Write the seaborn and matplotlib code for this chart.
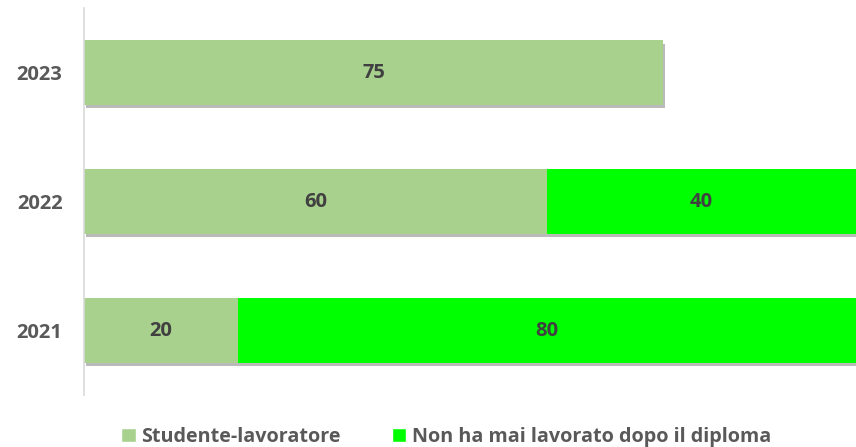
import matplotlib
matplotlib.use("Agg")
import matplotlib.pyplot as plt
import matplotlib.patheffects as pe
from matplotlib.patches import Patch
import seaborn as sns
import pandas as pd

years = ["2023", "2022", "2021"]
studente = [75, 60, 20]
mai_lavorato = [0, 40, 80]
series_names = ["Studente-lavoratore", "Non ha mai lavorato dopo il diploma"]
colors = ["#A9D18E", "#00FF00"]

sns.set_style("white")
plt.rcParams['font.family'] = ['Open Sans', 'DejaVu Sans']

totals = [a + b for a, b in zip(studente, mai_lavorato)]
df = pd.DataFrame({"year": years, "s1": studente, "s2": mai_lavorato, "tot": totals})

fig = plt.figure(figsize=(8.56, 4.47), dpi=100)
ax = fig.add_axes([84 / 856, 52 / 447, 772 / 856, 387 / 447])

sns.barplot(data=df, y="year", x="tot", order=years, color=colors[1],
            orient="h", width=0.5, ax=ax, saturation=1, linewidth=0)
c_tot = ax.containers[0]
for p in c_tot.patches:
    p.set_path_effects([pe.SimplePatchShadow(offset=(1.5, -2.5), shadow_rgbFace="#8c8c8c", alpha=0.6),
                        pe.Normal()])
sns.barplot(data=df, y="year", x="s1", order=years, color=colors[0],
            orient="h", width=0.5, ax=ax, saturation=1, linewidth=0)
c_s1 = ax.containers[1]

lab_kw = dict(fontsize=14.5, fontweight="bold", color="#404040")
ax.bar_label(c_s1, labels=[str(v) if v > 0 else "" for v in studente], label_type="center", **lab_kw)
for p, v, s in zip(c_tot.patches, mai_lavorato, studente):
    if v > 0:
        ax.text(s + v / 2, p.get_y() + p.get_height() / 2, str(v), ha="center", va="center", **lab_kw)

ax.set_xlim(0, 100)
ax.set_ylim(2.5, -0.5)
ax.set_xlabel("")
ax.set_ylabel("")
ax.set_xticks([])
ax.tick_params(axis="y", length=0, pad=15.5, labelsize=14.5, labelcolor="#595959")
for t in ax.get_yticklabels():
    t.set_fontweight("bold")
for s in ["top", "right", "bottom"]:
    ax.spines[s].set_visible(False)
ax.spines["left"].set_color("#D9D9D9")
ax.spines["left"].set_linewidth(1.2)

handles = [Patch(facecolor=colors[0], label=series_names[0]),
           Patch(facecolor=colors[1], label=series_names[1])]
leg = fig.legend(handles=handles, loc="center", bbox_to_anchor=(0.5216, 10 / 447), ncol=2,
                 frameon=False, fontsize=14.2, handlelength=0.72, handleheight=0.72,
                 handletextpad=0.3, columnspacing=2.6)
for t in leg.get_texts():
    t.set_fontweight("bold")
    t.set_color("#595959")

fig.savefig("out.png", dpi=100)
